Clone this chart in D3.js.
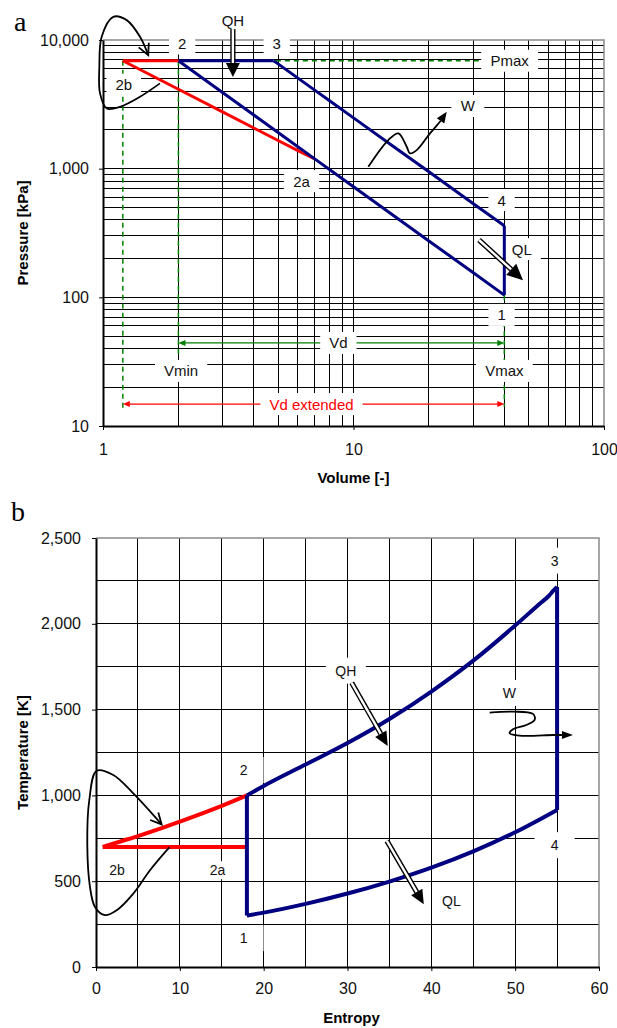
<!DOCTYPE html>
<html>
<head>
<meta charset="utf-8">
<script src="https://cdn.jsdelivr.net/npm/d3@7"></script>
<style>
  body { margin: 0; background: #fff; }
  text { font-family: "Liberation Sans", Arial, sans-serif; }
</style>
</head>
<body>
<svg id="chart" width="617" height="1028"></svg>
<script>
// ---------- data: chart a (P-V, log-log) ----------
const volTicks = [1, 10, 100];
const presTicks = [10, 100, 1000, 10000];
const volGrid = [2, 3, 4, 5, 6, 7, 8, 9, 10, 20, 30, 40, 50, 60, 70, 80, 90];
const presGrid = [20, 30, 40, 50, 60, 70, 80, 90, 100, 200, 300, 400, 500, 600, 700, 800, 900,
                  1000, 2000, 3000, 4000, 5000, 6000, 7000, 8000, 9000];

const compV = [40, 30, 20, 15, 10, 7, 5, 4, 3, 2];
const compP = [104, 156, 274, 410, 724, 1192, 1911, 2613, 3909, 6900];
const heatV = [2, 4.8];
const heatP = [6900, 6900];
const expV = [4.8, 5, 6, 7, 8, 10, 15, 20, 30, 40];
const expP = [6900, 6520, 5056, 4079, 3387, 2482, 1411, 945, 537, 360];
const rejV = [40, 40];
const rejP = [360, 104];
const redTopV = [1.2, 2];
const redTopP = [6900, 6900];
const redIsoV = [1.2, 2, 3, 4, 5, 6, 7];
const redIsoP = [6900, 4140, 2760, 2070, 1656, 1380, 1192];

const pmaxLineV = [1.2, 40];
const pmaxLineP = [6900, 6900];
const vminLineV = [2, 2];
const vminLineP = [6900, 36];
const vextLineV = [1.2, 1.2];
const vextLineP = [6900, 13.1];
const vmaxLineV = [40, 40];
const vmaxLineP = [104, 14.1];
const vdArrowV = [2, 40];
const vdArrowP = [44.2, 44.2];
const vdExtArrowV = [1.2, 40];
const vdExtArrowP = [14.8, 14.8];

const pvLabelText = ['2', '3', '2b', '2a', 'Pmax', 'W', '4', 'QL', '1', 'Vd', 'Vmin', 'Vmax', 'Vd extended'];
const pvLabelV = [2.07, 4.94, 1.21, 6.2, 42, 28.6, 39, 47, 39, 8.7, 2.05, 40, 6.8];
const pvLabelP = [9400, 9400, 4500, 800, 6900, 3070, 570, 237, 73, 44.2, 26.8, 26.8, 14.8];

const pvLoopV = [1.688, 1.405, 1.169, 1.035, 0.973, 0.967, 0.988, 1.099, 1.243, 1.405, 1.516];
const pvLoopP = [4600, 3620, 3027, 2940, 3846, 6190, 10590, 15140, 14270, 10590, 7632];
const pvWorkV = [11.46, 13.77, 15.10, 16.31, 16.81, 17.88, 20.2, 22.14, 23.56];
const pvWorkP = [1035, 1668, 1881, 1480, 1315, 1394, 1881, 2314, 2768];
const pvQHV = [3.3, 3.3];
const pvQHP = [12150, 5150];
const pvQLV = [31.7, 47.5];
const pvQLP = [279, 136];

// ---------- data: chart b (T-S) ----------
const entTicks = [0, 10, 20, 30, 40, 50, 60];
const tempTicks = [0, 500, 1000, 1500, 2000, 2500];
const entGrid = [5, 10, 15, 20, 25, 30, 35, 40, 45, 50, 55];
const tempGrid = [250, 500, 750, 1000, 1250, 1500, 1750, 2000, 2250];

const tCompS = [18, 18];
const tCompT = [300, 1000];
const tHeatS = [18, 20, 25, 30, 35, 40, 45, 50, 53, 54, 54.5, 55];
const tHeatT = [1000, 1055, 1180, 1305, 1445, 1605, 1785, 1990, 2120, 2162, 2190, 2215];
const tExpS = [55, 55];
const tExpT = [2215, 915];
const tRejS = [18, 20, 25, 30, 35, 40, 45, 50, 55];
const tRejT = [300, 317, 368, 428, 498, 579, 674, 785, 915];
const tRedS = [0.8, 3, 5, 8, 10, 13, 15, 18];
const tRedT = [700, 733, 763, 812, 847, 901, 939, 1000];
const tRedIsoS = [0.8, 18];
const tRedIsoT = [700, 700];

const tsLabelText = ['3', '2', '1', '4', 'QH', 'W', '2b', '2a', 'QL'];
const tsLabelS = [54.7, 17.6, 17.6, 54.7, 29.8, 49.3, 2.5, 14.5, 42.4];
const tsLabelT = [2368, 1148, 168, 710, 1727, 1597, 564, 564, 383];

const tsLoopS = [8.74, 6.44, 4.45, 2.47, 1.07, -0.12, -0.72, -1.04, -0.80, 0.08, 2.06, 4.45, 7.83];
const tsLoopT = [697, 564, 428, 331, 302, 350, 467, 720, 973, 1144, 1119, 1012, 831];
const tsQHS = [30.5, 34.8];
const tsQHT = [1656, 1288];
const tsQLS = [34.7, 39.1];
const tsQLT = [735, 366];
const tsWorkS = [46.96, 49.74, 52.12, 52.32, 51.33, 49.74, 49.34, 50.54, 54.51, 56.89];
const tsWorkT = [1482, 1488, 1475, 1440, 1410, 1385, 1362, 1348, 1352, 1352];

// ---------- helpers ----------
const svg = d3.select('#chart');
const zip = (a, b) => a.map((d, i) => [d, b[i]]);
const BLUE = '#000080', RED = '#ff0000', GREEN = '#008000';

function drawLine(g, xs, ys, sx, sy, color, w, curve, dash) {
  const line = d3.line().x(d => sx(d[0])).y(d => sy(d[1])).curve(curve || d3.curveLinear);
  const p = g.append('path').attr('d', line(zip(xs, ys)))
    .attr('fill', 'none').attr('stroke', color).attr('stroke-width', w)
    .attr('stroke-linejoin', 'round').attr('stroke-linecap', 'butt');
  if (dash) p.attr('stroke-dasharray', dash);
  return p;
}

function head(g, tip, ang, len, wid, color, filled) {
  const bx = tip[0] - len * Math.cos(ang), by = tip[1] - len * Math.sin(ang);
  const px = -Math.sin(ang) * wid / 2, py = Math.cos(ang) * wid / 2;
  if (filled) {
    g.append('path').attr('d', `M${tip[0]},${tip[1]}L${bx + px},${by + py}L${bx - px},${by - py}Z`)
      .attr('fill', color);
  } else {
    g.append('path').attr('d', `M${bx + px},${by + py}L${tip[0]},${tip[1]}L${bx - px},${by - py}`)
      .attr('fill', 'none').attr('stroke', color).attr('stroke-width', 1.8).attr('stroke-linejoin', 'miter');
  }
  return [bx, by];
}

// annotation arrow in pixel space after mapping through scales
function arrow(g, xs, ys, sx, sy, o) {
  const pts = zip(xs, ys).map(d => [sx(d[0]), sy(d[1])]);
  const n = pts.length;
  const ang = Math.atan2(pts[n - 1][1] - pts[n - 2][1], pts[n - 1][0] - pts[n - 2][0]);
  const base = [pts[n - 1][0] - o.len * Math.cos(ang), pts[n - 1][1] - o.len * Math.sin(ang)];
  const shaft = o.filled ? pts.slice(0, -1).concat([base]) : pts;
  const line = d3.line().curve(n > 2 ? d3.curveCatmullRom : d3.curveLinear);
  if (o.double) {
    g.append('path').attr('d', line(shaft)).attr('fill', 'none').attr('stroke', '#000').attr('stroke-width', 5.2);
    g.append('path').attr('d', line(shaft)).attr('fill', 'none').attr('stroke', '#fff').attr('stroke-width', 2.4);
  } else {
    g.append('path').attr('d', line(shaft)).attr('fill', 'none').attr('stroke', '#000').attr('stroke-width', 1.8);
  }
  head(g, pts[n - 1], ang, o.len, o.wid, '#000', o.filled);
}

function refArrow(g, xs, ys, sx, sy, color) {
  const x1 = sx(xs[0]), x2 = sx(xs[1]), y = sy(ys[0]);
  g.append('line').attr('x1', x1 + 5).attr('x2', x2 - 5).attr('y1', y).attr('y2', y)
    .attr('stroke', color).attr('stroke-width', 1.3);
  head(g, [x1, y], Math.PI, 7, 6, color, true);
  head(g, [x2, y], 0, 7, 6, color, true);
}

function boxLabel(g, x, y, txt, fs, padX, h, minW, color) {
  const grp = g.append('g');
  const t = grp.append('text').attr('x', x).attr('y', y)
    .attr('text-anchor', 'middle').attr('dominant-baseline', 'central')
    .style('font-size', fs + 'px').attr('fill', color || '#111').text(txt);
  const bb = t.node().getBBox();
  const w = Math.max(bb.width + 2 * padX, minW);
  grp.insert('rect', 'text').attr('x', x - w / 2).attr('y', y - h / 2)
    .attr('width', w).attr('height', h).attr('fill', '#fff');
}

function grid(g, sx, sy, xs, ys, xDom, yDom) {
  g.selectAll(null).data(xs).join('line')
    .attr('x1', d => sx(d)).attr('x2', d => sx(d)).attr('y1', sy(yDom[0])).attr('y2', sy(yDom[1]))
    .attr('stroke', '#000').attr('stroke-width', 1).attr('shape-rendering', 'crispEdges');
  g.selectAll(null).data(ys).join('line')
    .attr('y1', d => sy(d)).attr('y2', d => sy(d)).attr('x1', sx(xDom[0])).attr('x2', sx(xDom[1]))
    .attr('stroke', '#000').attr('stroke-width', 1).attr('shape-rendering', 'crispEdges');
  // gray plot border (top/right)
  g.append('path')
    .attr('d', `M${sx(xDom[0])},${sy(yDom[1])}H${sx(xDom[1])}V${sy(yDom[0])}`)
    .attr('fill', 'none').attr('stroke', '#8a8a8a').attr('stroke-width', 1.5);
}

function styleAxis(g) {
  g.select('.domain').attr('stroke', '#000').attr('stroke-width', 2);
  g.selectAll('.tick line').attr('stroke', '#000');
  g.selectAll('.tick text').style('font-size', '16px')
    .style('font-family', '"Liberation Sans", Arial, sans-serif').attr('fill', '#111');
}

// ---------- chart a ----------
const ax = d3.scaleLog().domain([1, 100]).range([103, 604]);
const ay = d3.scaleLog().domain([10, 10000]).range([426, 40]);
const ga = svg.append('g');

grid(ga, ax, ay, volGrid, presGrid, [1, 100], [10, 10000]);

// reference lines
const refA = ga.append('g');
drawLine(refA, pmaxLineV, pmaxLineP, ax, ay, GREEN, 1.5, null, '5,4');
drawLine(refA, vminLineV, vminLineP, ax, ay, GREEN, 1.5, null, '5,4');
drawLine(refA, vextLineV, vextLineP, ax, ay, GREEN, 1.5, null, '5,4');
drawLine(refA, vmaxLineV, vmaxLineP, ax, ay, GREEN, 1.5, null, '5,4');
refArrow(refA, vdArrowV, vdArrowP, ax, ay, GREEN);
refArrow(refA, vdExtArrowV, vdExtArrowP, ax, ay, RED);

// labels with white boxes
pvLabelText.forEach((t, i) => {
  boxLabel(ga, ax(pvLabelV[i]), ay(pvLabelP[i]), t, 15, 9, 22, 0, t === 'Vd extended' ? RED : '#111');
});
ga.append('text').attr('x', ax(3.3)).attr('y', ay(14300)).attr('text-anchor', 'middle')
  .attr('dominant-baseline', 'central').style('font-size', '15px').attr('fill', '#111').text('QH');

// cycle
drawLine(ga, redIsoV, redIsoP, ax, ay, RED, 3);
drawLine(ga, compV, compP, ax, ay, BLUE, 3);
drawLine(ga, heatV, heatP, ax, ay, BLUE, 3);
drawLine(ga, expV, expP, ax, ay, BLUE, 3);
drawLine(ga, rejV, rejP, ax, ay, BLUE, 3);
drawLine(ga, redTopV, redTopP, ax, ay, RED, 3);

// annotation arrows
arrow(ga, pvLoopV, pvLoopP, ax, ay, { len: 11, wid: 11, filled: false });
arrow(ga, pvWorkV, pvWorkP, ax, ay, { len: 11, wid: 9, filled: true });
arrow(ga, pvQHV, pvQHP, ax, ay, { len: 14, wid: 14, filled: true, double: true });
arrow(ga, pvQLV, pvQLP, ax, ay, { len: 16, wid: 15, filled: true, double: true });

// axes
const axA = ga.append('g').attr('transform', `translate(0,${ay(10)})`)
  .call(d3.axisBottom(ax).tickValues(volTicks).tickFormat(d3.format('d')).tickSize(4).tickSizeOuter(0).tickPadding(14));
styleAxis(axA);
const ayA = ga.append('g').attr('transform', `translate(${ax(1)},0)`)
  .call(d3.axisLeft(ay).tickValues(presTicks).tickFormat(d3.format(',')).tickSize(4).tickSizeOuter(0).tickPadding(10));
styleAxis(ayA);

ga.append('text').attr('x', (ax(1) + ax(100)) / 2).attr('y', 483).attr('text-anchor', 'middle')
  .style('font-size', '15px').style('font-weight', 'bold').text('Volume [-]');
ga.append('text').attr('transform', `translate(22,${(ay(10) + ay(10000)) / 2}) rotate(-90)`)
  .attr('text-anchor', 'middle').attr('dominant-baseline', 'central')
  .style('font-size', '15px').style('font-weight', 'bold').text('Pressure [kPa]');
ga.append('text').attr('x', 14).attr('y', 31).style('font-family', '"Liberation Serif", "Times New Roman", serif')
  .style('font-size', '28px').text('a');

// ---------- chart b ----------
const bx = d3.scaleLinear().domain([0, 60]).range([96, 599]);
const by = d3.scaleLinear().domain([0, 2500]).range([967, 538]);
const gb = svg.append('g');

grid(gb, bx, by, entGrid, tempGrid, [0, 60], [0, 2500]);

const tsSmall = new Set(['2b', '2a', 'QL']);
tsLabelText.forEach((t, i) => {
  const small = tsSmall.has(t);
  boxLabel(gb, bx(tsLabelS[i]), by(tsLabelT[i]), t, 14, small ? 5 : 7, small ? 18 : 26, small ? 0 : 40);
});

drawLine(gb, tRedIsoS, tRedIsoT, bx, by, RED, 4);
drawLine(gb, tRedS, tRedT, bx, by, RED, 4, d3.curveMonotoneX);
drawLine(gb, tCompS, tCompT, bx, by, BLUE, 4);
drawLine(gb, tHeatS, tHeatT, bx, by, BLUE, 4, d3.curveMonotoneX);
drawLine(gb, tExpS, tExpT, bx, by, BLUE, 4);
drawLine(gb, tRejS, tRejT, bx, by, BLUE, 4, d3.curveMonotoneX);

arrow(gb, tsLoopS, tsLoopT, bx, by, { len: 11, wid: 11, filled: false });
arrow(gb, tsWorkS, tsWorkT, bx, by, { len: 11, wid: 8, filled: true });
arrow(gb, tsQHS, tsQHT, bx, by, { len: 14, wid: 13, filled: true, double: true });
arrow(gb, tsQLS, tsQLT, bx, by, { len: 14, wid: 13, filled: true, double: true });

const axB = gb.append('g').attr('transform', `translate(0,${by(0)})`)
  .call(d3.axisBottom(bx).tickValues(entTicks).tickFormat(d3.format('d')).tickSize(4).tickSizeOuter(0).tickPadding(12));
styleAxis(axB);
const ayB = gb.append('g').attr('transform', `translate(${bx(0)},0)`)
  .call(d3.axisLeft(by).tickValues(tempTicks).tickFormat(d3.format(',')).tickSize(4).tickSizeOuter(0).tickPadding(11));
styleAxis(ayB);

gb.append('text').attr('x', (bx(0) + bx(60)) / 2 + 4).attr('y', 1023).attr('text-anchor', 'middle')
  .style('font-size', '15px').style('font-weight', 'bold').text('Entropy');
gb.append('text').attr('transform', `translate(22,${(by(0) + by(2500)) / 2}) rotate(-90)`)
  .attr('text-anchor', 'middle').attr('dominant-baseline', 'central')
  .style('font-size', '15px').style('font-weight', 'bold').text('Temperature [K]');
gb.append('text').attr('x', 11).attr('y', 521).style('font-family', '"Liberation Serif", "Times New Roman", serif')
  .style('font-size', '28px').text('b');
</script>
</body>
</html>
